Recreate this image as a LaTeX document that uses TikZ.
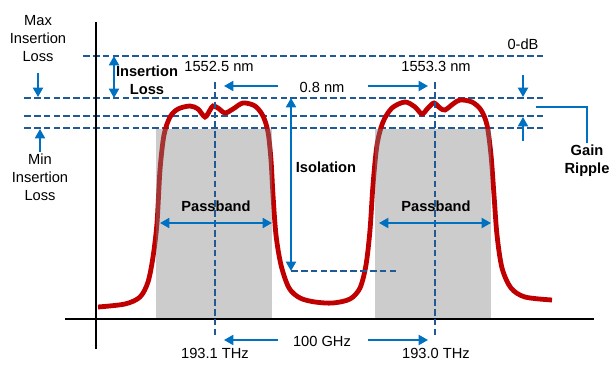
\documentclass[tikz,border=0pt]{standalone}
\usepackage{fontspec}
\setmainfont{Liberation Sans}
\usetikzlibrary{arrows.meta}
\definecolor{dashblue}{RGB}{31,90,150}
\definecolor{arrblue}{RGB}{0,112,192}
\definecolor{curvered}{RGB}{192,0,0}
\definecolor{bandgray}{RGB}{128,128,128}
\tikzset{
  dashline/.style={draw=dashblue, line width=1.5pt, dash pattern=on 5pt off 2.4pt},
  arr/.style={draw=arrblue, line width=1.5pt, -{Triangle[length=7pt,width=7.5pt]}},
  darr/.style={draw=arrblue, line width=1.5pt, {Triangle[length=7pt,width=7.5pt]}-{Triangle[length=7pt,width=7.5pt]}},
  lbl/.style={font=\fontsize{11}{13.5}\selectfont, inner sep=0pt, align=center},
  blbl/.style={font=\fontsize{11}{13.5}\selectfont\bfseries, inner sep=0pt, align=center},
  band/.style={fill=bandgray, fill opacity=0.4, draw=none},
  axis/.style={draw=black, line width=1.5pt},
  curve/.style={draw=curvered, line width=3.6pt}
}
\begin{document}
\begin{tikzpicture}[x=0.75pt,y=-0.75pt]
\useasboundingbox (0,0) rectangle (615,368);
% horizontal dashed levels
\coordinate (l0a) at (83,56);  \coordinate (l0b) at (543,56);
\coordinate (l1a) at (24,98);  \coordinate (l1b) at (543,98);
\coordinate (l2a) at (24,116); \coordinate (l2b) at (543,116);
\coordinate (l3a) at (24,128); \coordinate (l3b) at (543,128);
\draw[dashline] (l0a) -- (l0b);
\draw[dashline] (l1a) -- (l1b);
\draw[dashline] (l2a) -- (l2b);
\draw[dashline] (l3a) -- (l3b);
% axes
\coordinate (ytop) at (96,22); \coordinate (ybot) at (96,349);
\coordinate (xl) at (65,319); \coordinate (xr) at (594,319);
\draw[axis] (ytop) -- (ybot);
\draw[axis] (xl) -- (xr);
% red transmission curve
\draw[curve] plot[smooth, tension=0.5] coordinates {
(98,307) (125,304) (140,297) (148,282) (153,257) (157,223) (160,170) (164,135)
(170,117) (178,109) (190,106) (198,109) (205,117) (210,110) (213,106) (218,108)
(225,113) (233,109) (243,103) (255,106) (263,116) (268,132) (271,160) (273,195)
(276,235) (281,265) (289,288) (300,298) (315,302) (333,303) (350,299) (360,288)
(366,265) (370,230) (373,185) (377,145) (383,122) (392,108) (405,102) (415,107)
(422,114) (428,108) (434,103) (440,108) (445,110) (453,104) (460,100) (472,102)
(481,110) (487,125) (491,155) (494,195) (497,235) (502,268) (511,288) (525,297)
(552,300)};
% passbands
\fill[band] (156,129) rectangle (272,318);
\fill[band] (375,129) rectangle (491,318);
% channel centre lines
\coordinate (c1t) at (215,82); \coordinate (c1b) at (215,336);
\coordinate (c2t) at (435,82); \coordinate (c2b) at (435,336);
\draw[dashline] (c1t) -- (c1b);
\draw[dashline] (c2t) -- (c2b);
% isolation
\coordinate (isot) at (291,98); \coordinate (isob) at (291,271);
\coordinate (isoe) at (399,271);
\draw[dashline] (isob) -- (isoe);
\draw[darr] (isot) -- (isob);
% insertion loss
\coordinate (ilt) at (114,56); \coordinate (ilb) at (114,98);
\draw[darr] (ilt) -- (ilb);
% max / min insertion loss arrows
\coordinate (maxa) at (38,73); \coordinate (maxb) at (38,97);
\draw[arr] (maxa) -- (maxb);
\coordinate (mina) at (40,152); \coordinate (minb) at (40,129);
\draw[arr] (mina) -- (minb);
% gain ripple
\coordinate (gra) at (523,75); \coordinate (grb) at (523,97);
\draw[arr] (gra) -- (grb);
\coordinate (grc) at (523,141); \coordinate (grd) at (523,117);
\draw[arr] (grc) -- (grd);
\coordinate (gbr1) at (536,107); \coordinate (gbr2) at (587,107); \coordinate (gbr3) at (587,143);
\draw[draw=arrblue, line width=1.5pt] (gbr1) -- (gbr2) -- (gbr3);
% spacing arrows
\coordinate (sa1) at (278,86); \coordinate (sa2) at (224,86);
\coordinate (sa3) at (368,86); \coordinate (sa4) at (428,86);
\draw[arr] (sa1) -- (sa2);
\draw[arr] (sa3) -- (sa4);
\coordinate (fa1) at (278,340); \coordinate (fa2) at (224,340);
\coordinate (fa3) at (368,340); \coordinate (fa4) at (428,340);
\draw[arr] (fa1) -- (fa2);
\draw[arr] (fa3) -- (fa4);
% passband arrows
\coordinate (pb1a) at (160,223); \coordinate (pb1b) at (272,223);
\coordinate (pb2a) at (379,223); \coordinate (pb2b) at (491,223);
\draw[darr] (pb1a) -- (pb1b);
\draw[darr] (pb2a) -- (pb2b);
% labels
\node[lbl] (maxil) at (38,39) {Max\\Insertion\\Loss};
\node[lbl] (minil) at (40,177) {Min\\Insertion\\Loss};
\node[blbl] (il) at (147,80) {Insertion\\Loss};
\node[lbl] (w1) at (219,66) {1552.5 nm};
\node[lbl] (w2) at (436,66) {1553.3 nm};
\node[lbl] (sp) at (322,87) {0.8 nm};
\node[lbl] (zdb) at (523,44) {0-dB};
\node[blbl] (iso) at (326,167) {Isolation};
\node[blbl] (gr) at (587,161) {Gain\\Ripple};
\node[blbl] (pb1) at (216,206) {Passband};
\node[blbl] (pb2) at (436,206) {Passband};
\node[lbl] (f1) at (215,353) {193.1 THz};
\node[lbl] (f2) at (436,353) {193.0 THz};
\node[lbl] (fs) at (322,341) {100 GHz};
\end{tikzpicture}
\end{document}
